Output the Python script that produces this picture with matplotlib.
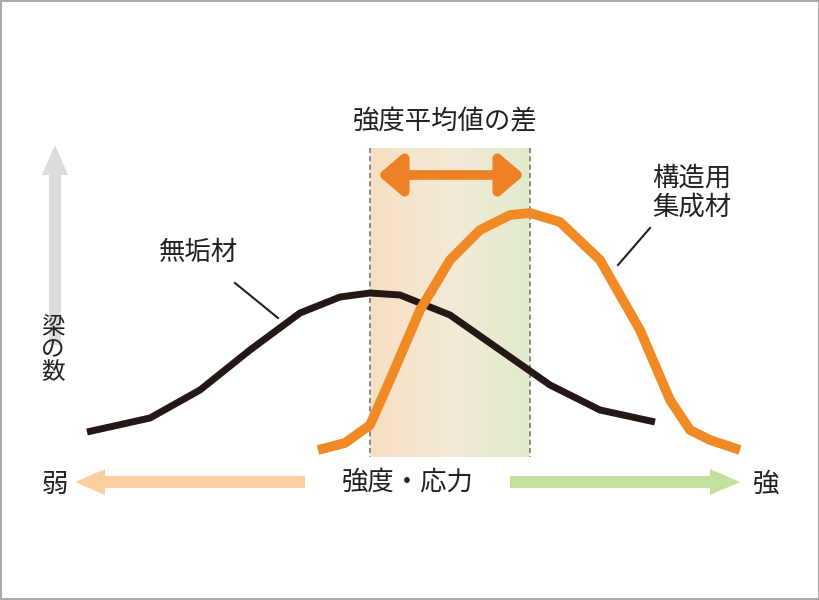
import matplotlib
matplotlib.use("Agg")
import matplotlib.pyplot as plt
import numpy as np
from matplotlib.patches import FancyArrow, FancyArrowPatch, Rectangle

plt.rcParams['font.family'] = ['Noto Sans CJK JP', 'DejaVu Sans']

# curve points (pixel coords, y down)
solid_x = [87, 150, 200, 250, 300, 340, 370, 400, 450, 500, 550, 600, 655]
solid_y = [432, 418, 390, 350, 313, 297, 293, 295, 315, 350, 385, 410, 422]
glulam_x = [318, 345, 370, 390, 420, 450, 480, 510, 530, 560, 600, 640, 670, 690, 710, 740]
glulam_y = [450, 443, 425, 380, 310, 260, 230, 215, 213, 222, 260, 330, 400, 430, 440, 450]
labels = {"title": "強度平均値の差", "solid": "無垢材", "glulam": "構造用\n集成材",
          "yaxis": "梁\nの\n数", "xaxis": "強度・応力", "weak": "弱", "strong": "強"}

fig = plt.figure(figsize=(8.2, 6), dpi=100)
ax = fig.add_axes([0, 0, 1, 1])
ax.set_xlim(0, 820); ax.set_ylim(600, 0); ax.axis('off')
ax.add_patch(Rectangle((1, 1), 818, 598, fill=False, ec='#aaaaaa', lw=1.5))

# gradient band
grad = np.linspace(0, 1, 100)[None, :]
from matplotlib.colors import LinearSegmentedColormap
cm = LinearSegmentedColormap.from_list('g', ['#f7dfc2', '#f4ead6', '#e1ebcc'])
ax.imshow(grad, cmap=cm, extent=(370, 530, 457, 148), aspect='auto', zorder=0)
for xv in (370, 530):
    ax.plot([xv, xv], [148, 457], ls=(0, (3, 2)), color='#777777', lw=1.2, zorder=1)

ax.plot(solid_x, solid_y, color='#231815', lw=5, solid_capstyle='butt', zorder=2)
ax.plot(glulam_x, glulam_y, color='#f08a24', lw=7, solid_capstyle='butt', zorder=3)

ax.add_patch(FancyArrowPatch((375, 175), (527, 175), arrowstyle='<|-|>,head_length=14,head_width=12',
                             lw=7, color='#ee8126', mutation_scale=1, zorder=4))

ax.text(445, 122, labels["title"], fontsize=19, ha='center', va='center', color='#222222')
ax.text(692, 193, labels["glulam"], fontsize=19, ha='center', va='center', color='#222222', linespacing=1.1)
ax.text(198, 252, labels["solid"], fontsize=19, ha='center', va='center', color='#222222')
ax.plot([235, 278], [283, 318], color='#222222', lw=1.5)
ax.plot([650, 618], [228, 265], color='#222222', lw=1.5)

ax.add_patch(FancyArrow(55, 345, 0, -200, width=12, head_width=26, head_length=30,
                        length_includes_head=True, color='#dcdcdd', lw=0))
ax.text(53, 350, labels["yaxis"], fontsize=17, ha='center', va='center', color='#222222', linespacing=0.95)

ax.add_patch(FancyArrow(305, 482, -230, 0, width=12, head_width=26, head_length=30,
                        length_includes_head=True, color='#fccf9f', lw=0))
ax.add_patch(FancyArrow(510, 482, 230, 0, width=12, head_width=26, head_length=30,
                        length_includes_head=True, color='#c5e09c', lw=0))
ax.text(55, 484, labels["weak"], fontsize=19, ha='center', va='center', color='#222222')
ax.text(766, 484, labels["strong"], fontsize=19, ha='center', va='center', color='#222222')
ax.text(408, 482, labels["xaxis"], fontsize=19, ha='center', va='center', color='#222222')

fig.savefig('out.png', dpi=100)
